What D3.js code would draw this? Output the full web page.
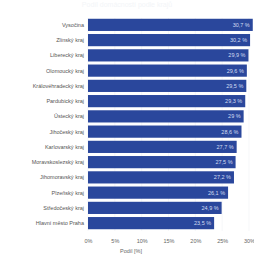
<!DOCTYPE html>
<html><head><meta charset="utf-8">
<script src="https://cdn.jsdelivr.net/npm/d3@7"></script>
<style>body{margin:0;background:#fff}svg{display:block}text{font-family:"Liberation Sans",Arial,sans-serif}</style>
</head><body><svg id="c" width="254" height="259"></svg>
<script>
const categories = ["Vysočina","Zlínský kraj","Liberecký kraj","Olomoucký kraj","Královéhradecký kraj","Pardubický kraj","Ústecký kraj","Jihočeský kraj","Karlovarský kraj","Moravskoslezský kraj","Jihomoravský kraj","Plzeňský kraj","Středočeský kraj","Hlavní město Praha"];
const values = [30.7, 30.2, 29.9, 29.6, 29.5, 29.3, 29.0, 28.6, 27.7, 27.5, 27.2, 26.1, 24.9, 23.5];
const ticks = [0,5,10,15,20,25,30];
const tickLabels = ["0%","5%","10%","15%","20%","25%","30%"];
const titleText = "Podíl domácností podle krajů";
const axisTitle = "Podíl [%]";

const svg = d3.select("#c");
const x = d3.scaleLinear().domain([0,30]).range([88,249]);
const y = d3.scaleBand().domain(categories).range([18,230]).paddingInner(0.2).paddingOuter(0.05);

svg.append("text").attr("x",127).attr("y",7).attr("text-anchor","middle")
  .attr("font-size",7).attr("fill","#f3f5f8").text(titleText);

svg.append("g").selectAll("line").data(ticks).join("line")
  .attr("x1",d=>x(d)).attr("x2",d=>x(d)).attr("y1",18).attr("y2",231)
  .attr("stroke","#f0f2f5").attr("stroke-width",0.6);

svg.append("g").selectAll("rect").data(values).join("rect")
  .attr("x",x(0)).attr("y",(d,i)=>y(categories[i]))
  .attr("width",d=>x(d)-x(0)).attr("height",y.bandwidth())
  .attr("fill","#2a479c");

const fmt = v => (Number.isInteger(v)? String(v) : v.toFixed(1).replace(".",",")) + " %";
svg.append("g").selectAll("text").data(values).join("text")
  .attr("x",d=>x(d)-3).attr("y",(d,i)=>y(categories[i])+y.bandwidth()/2)
  .attr("dy","0.35em").attr("text-anchor","end").attr("font-size",5.5)
  .attr("fill","#d3ddf2").text(fmt);

svg.append("g").selectAll("text").data(categories).join("text")
  .attr("x",84).attr("y",d=>y(d)+y.bandwidth()/2).attr("dy","0.35em")
  .attr("text-anchor","end").attr("font-size",5.5).attr("fill","#555").text(d=>d);

const ax = svg.append("g").attr("transform","translate(0,236)")
  .call(d3.axisBottom(x).tickValues(ticks).tickFormat((d,i)=>tickLabels[i]).tickSize(0).tickPadding(3));
ax.select(".domain").remove();
ax.selectAll("text").attr("font-size",5.5).attr("fill","#666").attr("font-family","Liberation Sans, Arial, sans-serif");

svg.append("text").attr("x",131).attr("y",253).attr("text-anchor","middle")
  .attr("font-size",5.5).attr("fill","#666").text(axisTitle);
</script></body></html>
